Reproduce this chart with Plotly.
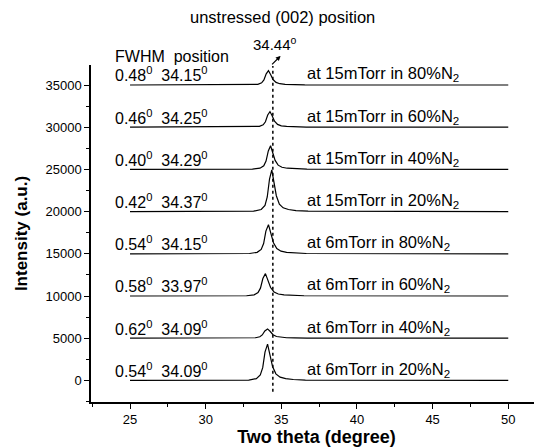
import plotly.graph_objects as go

# ---- data ----
conditions = ["at 15mTorr in 80%N<sub>2</sub>", "at 15mTorr in 60%N<sub>2</sub>",
              "at 15mTorr in 40%N<sub>2</sub>", "at 15mTorr in 20%N<sub>2</sub>",
              "at 6mTorr in 80%N<sub>2</sub>", "at 6mTorr in 60%N<sub>2</sub>",
              "at 6mTorr in 40%N<sub>2</sub>", "at 6mTorr in 20%N<sub>2</sub>"]
fwhm = ["0.48", "0.46", "0.40", "0.42", "0.54", "0.58", "0.62", "0.54"]
position = ["34.15", "34.25", "34.29", "34.37", "34.15", "33.97", "34.09", "34.09"]
offsets = [35000, 30000, 25000, 20000, 15000, 10000, 5000, 0]

two_theta_1 = [25, 32.95, 33.45, 33.70, 33.85, 34.00, 34.15, 34.30, 34.45, 34.65, 34.90, 35.25, 35.75, 36.55, 50]
intensity_1 = [0, 17, 85, 255, 595, 1326, 1700, 1224, 646, 306, 153, 85, 42, 17, 0]
two_theta_2 = [25, 33.05, 33.55, 33.80, 33.95, 34.10, 34.25, 34.40, 34.55, 34.75, 35.00, 35.35, 35.85, 36.65, 50]
intensity_2 = [0, 18, 92, 278, 648, 1443, 1850, 1332, 703, 333, 167, 92, 46, 18, 0]
two_theta_3 = [25, 33.09, 33.59, 33.84, 33.99, 34.14, 34.29, 34.44, 34.59, 34.79, 35.04, 35.39, 35.89, 36.69, 50]
intensity_3 = [0, 28, 140, 420, 980, 2184, 2800, 2016, 1064, 504, 252, 140, 70, 28, 0]
two_theta_4 = [25, 33.17, 33.67, 33.92, 34.07, 34.22, 34.37, 34.52, 34.67, 34.87, 35.12, 35.47, 35.97, 36.77, 50]
intensity_4 = [0, 50, 248, 743, 1733, 3861, 4950, 3564, 1881, 891, 446, 248, 124, 50, 0]
two_theta_5 = [25, 32.90, 33.40, 33.67, 33.83, 33.98, 34.15, 34.32, 34.48, 34.70, 34.98, 35.35, 35.85, 36.65, 50]
intensity_5 = [0, 35, 173, 518, 1208, 2691, 3450, 2484, 1311, 621, 311, 173, 86, 35, 0]
two_theta_6 = [25, 32.70, 33.20, 33.46, 33.62, 33.78, 33.95, 34.12, 34.29, 34.52, 34.80, 35.18, 35.70, 36.50, 50]
intensity_6 = [0, 27, 133, 398, 928, 2067, 2650, 1908, 1007, 477, 239, 133, 66, 27, 0]
two_theta_7 = [25, 32.80, 33.30, 33.58, 33.74, 33.91, 34.09, 34.27, 34.45, 34.68, 34.97, 35.35, 35.87, 36.70, 50]
intensity_7 = [0, 11, 55, 165, 385, 858, 1100, 792, 418, 198, 99, 55, 28, 11, 0]
two_theta_8 = [25, 32.85, 33.35, 33.61, 33.77, 33.92, 34.09, 34.26, 34.42, 34.64, 34.92, 35.29, 35.79, 36.59, 50]
intensity_8 = [0, 43, 215, 645, 1505, 3354, 4300, 3096, 1634, 774, 387, 215, 108, 43, 0]

xs = [two_theta_1, two_theta_2, two_theta_3, two_theta_4, two_theta_5, two_theta_6, two_theta_7, two_theta_8]
ys = [intensity_1, intensity_2, intensity_3, intensity_4, intensity_5, intensity_6, intensity_7, intensity_8]

unstressed_pos = 34.44
x_ticks = [25, 30, 35, 40, 45, 50]
y_ticks = [0, 5000, 10000, 15000, 20000, 25000, 30000, 35000]

FONT = "Liberation Sans, Arial, sans-serif"

fig = go.Figure()
for x, y, off in zip(xs, ys, offsets):
    fig.add_trace(go.Scatter(x=x, y=[v + off for v in y], mode="lines",
                             line=dict(color="black", width=1.2), showlegend=False))

# dotted unstressed line
fig.add_shape(type="line", x0=unstressed_pos, x1=unstressed_pos, y0=-1340, y1=37250,
              xref="x", yref="y", line=dict(color="black", width=1.5, dash="dot"))

ann = []
for c, f, p, off in zip(conditions, fwhm, position, offsets):
    ann.append(dict(x=23.85, y=off + 1250, xref="x", yref="y", xanchor="left", yanchor="middle",
                    text=f"{f}<sup>0</sup>&nbsp; {p}<sup>0</sup>", showarrow=False,
                    font=dict(size=16, color="black", family=FONT)))
    ann.append(dict(x=36.57, y=off + 1250, xref="x", yref="y", xanchor="left", yanchor="middle",
                    text=c, showarrow=False, font=dict(size=16.5, color="black", family=FONT)))

ann.append(dict(x=23.9, y=1.024, xref="x", yref="paper", xanchor="left", yanchor="middle",
                text="FWHM&nbsp; position", showarrow=False, font=dict(size=16, color="black", family=FONT)))
ann.append(dict(x=34.58, y=1.065, xref="x", yref="paper", xanchor="center", yanchor="middle",
                text="34.44<sup>o</sup>", showarrow=False, font=dict(size=15, color="black", family=FONT)))
ann.append(dict(x=35.05, y=1.142, xref="x", yref="paper", xanchor="center", yanchor="middle",
                text="unstressed (002) position", showarrow=False, font=dict(size=16.5, color="black", family=FONT)))
ann.append(dict(x=34.95, y=1.027, xref="x", yref="paper", text="", showarrow=True,
                ax=-10, ay=10, arrowhead=2, arrowsize=0.8, arrowwidth=1.2, arrowcolor="black"))

fig.update_layout(
    width=542, height=447,
    margin=dict(l=83, r=8, t=57, b=53),
    paper_bgcolor="white", plot_bgcolor="white",
    font=dict(family=FONT, color="black"),
    annotations=ann,
    xaxis=dict(range=[22.42, 52.23], tickvals=x_ticks, ticktext=[str(v) for v in x_ticks],
               showline=True, linecolor="black", linewidth=1.5, ticks="outside", ticklen=5,
               tickwidth=1.2, tickcolor="black", showgrid=False, zeroline=False,
               tickfont=dict(size=13, family=FONT),
               minor=dict(ticks="outside", dtick=2.5, tick0=25, ticklen=3, tickcolor="black"),
               title=dict(text="<b>Two theta (degree)</b>", font=dict(size=18, family=FONT), standoff=3)),
    yaxis=dict(range=[-2560, 37370], tickvals=y_ticks, ticktext=[str(v) for v in y_ticks],
               showline=True, linecolor="black", linewidth=1.5, ticks="outside", ticklen=5,
               tickwidth=1.2, tickcolor="black", showgrid=False, zeroline=False,
               tickfont=dict(size=13, family=FONT),
               minor=dict(ticks="outside", dtick=2500, tick0=0, ticklen=3, tickcolor="black"),
               title=dict(text="<b>Intensity (a.u.)</b>", font=dict(size=17, family=FONT), standoff=14)),
)

fig.write_html("out.html")
